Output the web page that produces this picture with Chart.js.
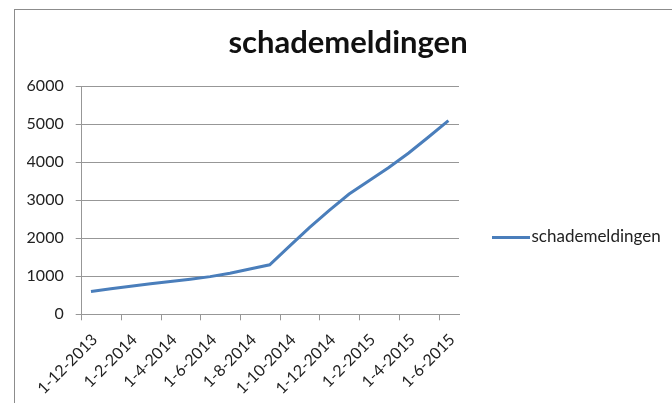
<!DOCTYPE html>
<html>
<head>
<meta charset="utf-8">
<script src="https://cdn.jsdelivr.net/npm/chart.js@4.4.1/dist/chart.umd.min.js"></script>
<style>
  html, body { margin: 0; padding: 0; background: #fff; overflow: hidden; }
  #frame { position: absolute; left: 14px; top: 9px; width: 700px; height: 420px; border: 1px solid #8c8c8c; }
  #wrap { position: absolute; left: 0; top: 0; width: 672px; height: 403px; }
</style>
</head>
<body>
<div id="frame"></div>
<div id="wrap"><canvas id="schadeChart" width="672" height="403"></canvas></div>
<script>
//Data: aantal schademeldingen, gemeten halverwege elke maand
const meetDatums = ['15-12-2013', '15-1-2014', '15-2-2014', '15-3-2014', '15-4-2014', '15-5-2014',
    '15-6-2014', '15-7-2014', '15-8-2014', '15-9-2014', '15-10-2014', '15-11-2014', '15-12-2014',
    '15-1-2015', '15-2-2015', '15-3-2015', '15-4-2015', '15-5-2015', '15-6-2015'];
const schademeldingen = [600, 670, 735, 800, 860, 920, 990, 1080, 1190, 1300, 1790, 2280, 2730,
    3160, 3510, 3860, 4240, 4660, 5090];

//Tick labels of the date axis
const asLabels = ['1-12-2013', '1-2-2014', '1-4-2014', '1-6-2014', '1-8-2014', '1-10-2014',
    '1-12-2014', '1-2-2015', '1-4-2015', '1-6-2015'];
const asStart = '1-12-2013';
const asEinde = '1-7-2015';

const lijnKleur = '#4a7ebb';
const rasterKleur = '#979797';

//Months since the start of the axis (d-m-yyyy)
function maandIndex(datum) {
    const [d, m, j] = datum.split('-').map(Number);
    const [, m0, j0] = asStart.split('-').map(Number);
    return (j - j0) * 12 + (m - m0) + (d - 1) / 30;
}

const punten = meetDatums.map((d, i) => ({ x: maandIndex(d), y: schademeldingen[i] }));

//Small line image for the legend (Excel style)
const legendLine = document.createElement('canvas');
legendLine.width = 38;
legendLine.height = 3;
const lctx = legendLine.getContext('2d');
lctx.fillStyle = lijnKleur;
lctx.fillRect(0, 0, 38, 3);

const ctx = document.getElementById('schadeChart');

const data = {
    datasets: [{
        label: 'schademeldingen',
        data: punten,
        borderColor: lijnKleur,
        backgroundColor: lijnKleur,
        borderWidth: 3,
        pointRadius: 0,
        tension: 0,
        fill: false,
    }]
};

const scales = {
    x: {
        type: 'linear',
        min: maandIndex(asStart),
        max: maandIndex(asEinde),
        afterBuildTicks: (axis) => {
            axis.ticks = asLabels.map(l => ({ value: maandIndex(l) }));
        },
        afterFit: (scale) => { scale.height = 88.7; },
        grid: {
            drawOnChartArea: false,
            drawTicks: true,
            tickLength: 6,
            color: rasterKleur,
        },
        border: { color: rasterKleur },
        ticks: {
            autoSkip: false,
            minRotation: 45,
            maxRotation: 45,
            padding: 10,
            labelOffset: 13,
            color: '#222',
            font: { family: 'Lato', size: 16 },
            callback: (value, index) => asLabels[index],
        }
    },
    y: {
        min: 0,
        max: 6000,
        afterFit: (scale) => { scale.width = 54.7; },
        grid: {
            color: rasterKleur,
            tickLength: 6,
        },
        border: { color: rasterKleur },
        ticks: {
            stepSize: 1000,
            padding: 12,
            color: '#222',
            font: { family: 'Lato', size: 16 },
            callback: (value) => String(value),
        }
    }
};

const config = {
    type: 'line',
    data: data,
    options: {
        responsive: false,
        animation: false,
        layout: { padding: { left: 27, right: 3, top: 0, bottom: 0 } },
        scales: scales,
        plugins: {
            title: {
                display: true,
                text: 'schademeldingen',
                color: '#111',
                font: { family: 'Lato', size: 31, weight: 'bold', lineHeight: 1.2 },
                padding: { top: 24.4, bottom: 24.4 },
            },
            legend: {
                position: 'right',
                fullSize: false,
                maxWidth: 210,
                title: {
                    display: true,
                    text: '',
                    font: { size: 10, lineHeight: 1.2 },
                    padding: { top: 61.7, bottom: 0 },
                },
                labels: {
                    usePointStyle: true,
                    pointStyle: legendLine,
                    pointStyleWidth: 24,
                    padding: 40,
                    color: '#222',
                    font: { family: 'Lato', size: 17 },
                }
            },
            tooltip: { enabled: false },
        }
    }
};

let SchadeChart = new Chart(ctx, config);
</script>
</body>
</html>
